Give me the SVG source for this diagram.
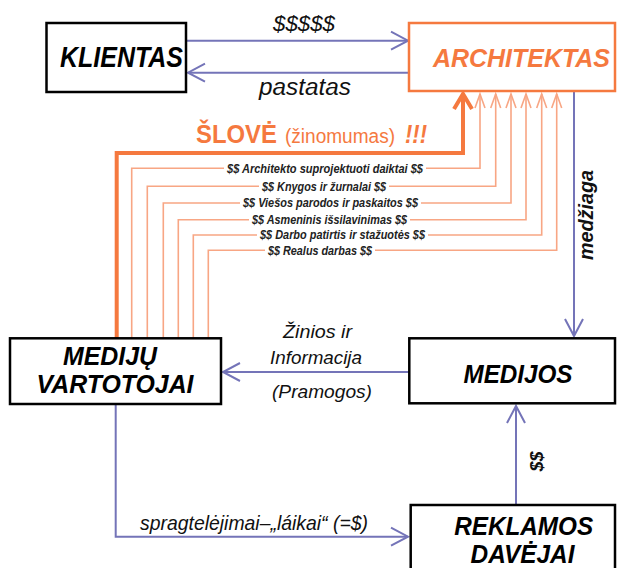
<svg xmlns="http://www.w3.org/2000/svg" width="618" height="568" viewBox="0 0 618 568">
<style>
  .box{fill:#fff;stroke:#000;stroke-width:2.5}
  .obox{fill:#fff;stroke:#F5793F;stroke-width:2.5}
  .nl{font-family:"Liberation Sans",Arial,sans-serif;font-weight:bold;font-style:italic;fill:#000;text-anchor:middle}
  .blue{fill:none;stroke:#7474B8;stroke-width:2}
  .thick{fill:none;stroke:#F5793F;stroke-width:4}
  .thin{fill:none;stroke:#F8A684;stroke-width:1.6}
  .lab{font-family:"Liberation Sans",Arial,sans-serif;font-style:italic;fill:#111}
  .small{font-family:"Liberation Sans",Arial,sans-serif;font-style:italic;font-weight:bold;font-size:12px;fill:#222}
  .orange{fill:#F5793F;font-family:"Liberation Sans",Arial,sans-serif}
</style>
<defs>
  <marker id="ab" markerUnits="userSpaceOnUse" markerWidth="22" markerHeight="22" viewBox="0 0 22 22" refX="19" refY="11" orient="auto">
    <path d="M2,2 L19,11 L2,20" fill="none" stroke="#7474B8" stroke-width="2"/>
  </marker>
  <marker id="ak" markerUnits="userSpaceOnUse" markerWidth="22" markerHeight="24" viewBox="0 0 22 24" refX="18" refY="12" orient="auto">
    <path d="M3,3 L18,12 L3,21" fill="none" stroke="#F5793F" stroke-width="4"/>
  </marker>
  <marker id="at" markerUnits="userSpaceOnUse" markerWidth="18" markerHeight="14" viewBox="0 0 18 14" refX="16" refY="7" orient="auto">
    <path d="M2,2 L16,7 L2,12" fill="none" stroke="#F8A684" stroke-width="1.6"/>
  </marker>
</defs>

<g id="connectors">
  <path class="blue" d="M186,40.7 H408" marker-end="url(#ab)"/>
  <path class="blue" d="M409,72.7 H188" marker-end="url(#ab)"/>
  <path class="blue" d="M574,92 V336" marker-end="url(#ab)"/>
  <path class="blue" d="M409,372 H223" marker-end="url(#ab)"/>
  <path class="blue" d="M516,505 V406" marker-end="url(#ab)"/>
  <path class="blue" d="M115.7,404 V536.7 H408" marker-end="url(#ab)"/>

  <path class="thick" d="M116.7,338 V153 H463 V94" marker-end="url(#ak)"/>
  <path class="thin" d="M131.7,338 V168.3 H480 V94" marker-end="url(#at)"/>
  <path class="thin" d="M147.3,338 V186.3 H495.7 V94" marker-end="url(#at)"/>
  <path class="thin" d="M163.3,338 V203 H511 V94" marker-end="url(#at)"/>
  <path class="thin" d="M178.3,338 V219.7 H526 V94" marker-end="url(#at)"/>
  <path class="thin" d="M193.3,338 V235 H541.7 V94" marker-end="url(#at)"/>
  <path class="thin" d="M208.3,338 V250.3 H556.7 V94" marker-end="url(#at)"/>

  <g fill="#fff">
    <rect x="224" y="161" width="202" height="14"/>
    <rect x="259" y="179" width="130" height="14"/>
    <rect x="240" y="196" width="181" height="14"/>
    <rect x="249" y="212.5" width="161" height="14"/>
    <rect x="257" y="228" width="171" height="14"/>
    <rect x="265" y="243.5" width="110" height="14"/>
  </g>
  <text class="small" x="227" y="172.5" textLength="196" lengthAdjust="spacingAndGlyphs">$$ Architekto suprojektuoti daiktai $$</text>
  <text class="small" x="262" y="190.5" textLength="124" lengthAdjust="spacingAndGlyphs">$$ Knygos ir žurnalai $$</text>
  <text class="small" x="243" y="207" textLength="175" lengthAdjust="spacingAndGlyphs">$$ Viešos parodos ir paskaitos $$</text>
  <text class="small" x="252" y="223.5" textLength="155" lengthAdjust="spacingAndGlyphs">$$ Asmeninis išsilavinimas $$</text>
  <text class="small" x="260" y="239" textLength="165" lengthAdjust="spacingAndGlyphs">$$ Darbo patirtis ir stažuotės $$</text>
  <text class="small" x="268" y="254.5" textLength="104" lengthAdjust="spacingAndGlyphs">$$ Realus darbas $$</text>

  <text class="lab" x="304" y="31" font-size="22" text-anchor="middle" textLength="62" lengthAdjust="spacingAndGlyphs">$$$$$</text>
  <text class="lab" x="259" y="95" font-size="23" textLength="92" lengthAdjust="spacingAndGlyphs">pastatas</text>

  <text class="orange" x="196" y="143.3" font-size="26" font-weight="bold" textLength="81" lengthAdjust="spacingAndGlyphs">ŠLOVĖ</text>
  <text class="orange" x="285" y="143" font-size="20" textLength="110" lengthAdjust="spacingAndGlyphs">(žinomumas)</text>
  <text class="orange" x="405" y="143.3" font-size="26" font-weight="bold" font-style="italic" textLength="22" lengthAdjust="spacingAndGlyphs">!!!</text>

  <text class="lab" font-size="20" font-weight="bold" text-anchor="middle" transform="translate(593,215) rotate(-90)" textLength="90" lengthAdjust="spacingAndGlyphs">medžiaga</text>

  <text class="lab" x="317.5" y="338" font-size="19" text-anchor="middle" textLength="69" lengthAdjust="spacingAndGlyphs">Žinios ir</text>
  <text class="lab" x="316" y="364" font-size="19" text-anchor="middle" textLength="92" lengthAdjust="spacingAndGlyphs">Informacija</text>
  <text class="lab" x="322" y="398" font-size="19" text-anchor="middle" textLength="100" lengthAdjust="spacingAndGlyphs">(Pramogos)</text>

  <text class="lab" font-size="18" font-weight="bold" text-anchor="middle" transform="translate(543,461.5) rotate(-90)">$$</text>

  <text class="lab" x="140" y="530" font-size="21" textLength="228" lengthAdjust="spacingAndGlyphs">spragtelėjimai–„láikai“ (=$)</text>
</g>

<g id="klientas">
  <rect class="box" x="46.5" y="23" width="139.5" height="69"/>
  <text class="nl" x="121.5" y="67" font-size="30" textLength="123" lengthAdjust="spacingAndGlyphs">KLIENTAS</text>
</g>
<g id="architektas">
  <rect class="obox" x="409" y="23" width="206" height="68"/>
  <text class="nl" x="521.5" y="66.7" font-size="25" style="fill:#F5793F" textLength="177" lengthAdjust="spacingAndGlyphs">ARCHITEKTAS</text>
</g>
<g id="mediju-vartotojai">
  <rect class="box" x="10" y="338.3" width="211" height="65.7"/>
  <text class="nl" x="110" y="365" font-size="26" textLength="94" lengthAdjust="spacingAndGlyphs">MEDIJŲ</text>
  <text class="nl" x="115" y="392.7" font-size="26" textLength="157" lengthAdjust="spacingAndGlyphs">VARTOTOJAI</text>
</g>
<g id="medijos">
  <rect class="box" x="409.3" y="338.3" width="205.7" height="65"/>
  <text class="nl" x="518" y="383.3" font-size="26" textLength="109" lengthAdjust="spacingAndGlyphs">MEDIJOS</text>
</g>
<g id="reklamos-davejai">
  <rect class="box" x="410.7" y="505" width="204.3" height="70"/>
  <text class="nl" x="523.7" y="535" font-size="26" textLength="139" lengthAdjust="spacingAndGlyphs">REKLAMOS</text>
  <text class="nl" x="522.5" y="563.3" font-size="26" textLength="104" lengthAdjust="spacingAndGlyphs">DAVĖJAI</text>
</g>
</svg>
